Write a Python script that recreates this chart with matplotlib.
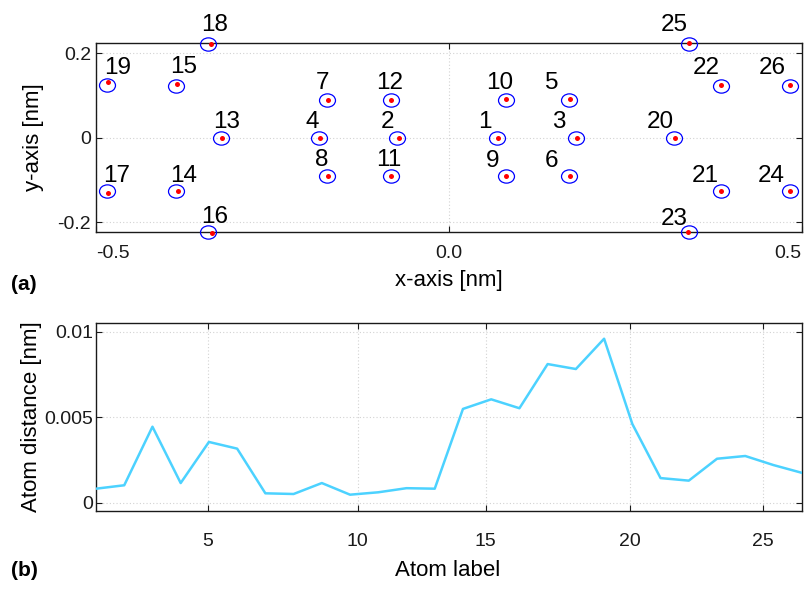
import matplotlib
matplotlib.use("Agg")
from matplotlib import pyplot as plt
from matplotlib.path import Path
from matplotlib.transforms import Affine2D

plt.rcParams['font.family'] = ['Liberation Sans', 'DejaVu Sans']

# atom labels
atoms = list(range(1, 27))

# ideal lattice positions [nm]
x_ideal = [0.068, -0.073, 0.180, -0.184, 0.170, 0.170, -0.172, -0.172, 0.081, 0.081,
           -0.082, -0.082, -0.323, -0.386, -0.387, -0.341, -0.485, -0.341, -0.484, 0.319,
           0.386, 0.386, 0.340, 0.484, 0.340, 0.484]
y_ideal = [0.0, 0.0, 0.0, 0.0, 0.090, -0.090, 0.090, -0.090, -0.090, 0.090,
           -0.090, 0.090, 0.0, -0.126, 0.122, -0.223, -0.126, 0.222, 0.125, 0.0,
           -0.126, 0.1235, -0.223, -0.126, 0.2226, 0.1235]

# relaxed positions [nm]
x_relax = [0.069, -0.071, 0.182, -0.183, 0.172, 0.172, -0.171, -0.171, 0.081, 0.081,
           -0.082, -0.082, -0.322, -0.384, -0.385, -0.336, -0.483, -0.337, -0.483, 0.321,
           0.385, 0.385, 0.339, 0.483, 0.340, 0.484]
y_relax = [0.0, 0.0, 0.0, 0.0, 0.091, -0.091, 0.090, -0.090, -0.091, 0.091,
           -0.090, 0.090, 0.0, -0.127, 0.127, -0.225, -0.130, 0.223, 0.131, 0.0,
           -0.126, 0.124, -0.224, -0.126, 0.224, 0.125]

# displacement of each atom [nm]
distance = [0.00083, 0.00103, 0.00445, 0.00116, 0.00356, 0.00317, 0.00056, 0.00052,
            0.00116, 0.00048, 0.00062, 0.00086, 0.00083, 0.00549, 0.00605, 0.00553,
            0.00811, 0.00782, 0.00959, 0.00461, 0.00145, 0.00130, 0.00258, 0.00274,
            0.00221, 0.00176]

# where the number sits relative to its atom (pixels)
label_offsets = [(-12, 16), (-10, 16), (-17, 16), (-7, 16), (-17, 17), (-17, 14.5),
                 (-5, 17), (-6, 15.5), (-13, 14.5), (-6, 17), (-2, 15.5), (-1, 17),
                 (6, 16), (7.5, 14.5), (7.5, 19), (6, 14.5), (10.5, 14.5), (6, 19),
                 (10, 17), (-14, 16), (-16, 15), (-15.5, 18), (-15, 13), (-19, 15),
                 (-15, 19), (-18.5, 18)]

b_ticks = [4.96, 10.27, 14.80, 19.92, 24.64]
b_ticklabels = ['5', '10', '15', '20', '25']

W, H = 806, 589
fig = plt.figure(figsize=(W / 100, H / 100), dpi=100)

def px_axes(left, top, right, bottom):
    return fig.add_axes([left / W, 1 - bottom / H, (right - left) / W, (bottom - top) / H])

def style(ax):
    for s in ax.spines.values():
        s.set_linewidth(1.0)
        s.set_color('#1a1a1a')
    ax.tick_params(direction='in', top=True, right=True, length=4.5, width=0.8,
                   labelsize=14, colors='#1a1a1a')
    ax.grid(True, color='#d2d2d2', linestyle=(0, (1, 2)), linewidth=0.8)
    ax.set_axisbelow(True)

# (a) atom positions
ax1 = px_axes(96, 43.3, 801.7, 232.3)
style(ax1)
ellipse = Path.unit_circle().transformed(Affine2D().scale(1, 0.83))
ax1.plot(x_ideal, y_ideal, linestyle='none', marker=ellipse, markersize=11.5,
         markerfacecolor='none', markeredgecolor='#0000ff', markeredgewidth=0.9,
         clip_on=False, zorder=4)
ax1.plot(x_relax, y_relax, linestyle='none', marker='o', markersize=3.6,
         markerfacecolor='#ff0000', markeredgecolor='#ff0000', markeredgewidth=0,
         clip_on=False, zorder=5)
for i, n in enumerate(atoms):
    ax1.annotate(str(n), (x_ideal[i], y_ideal[i]), xytext=label_offsets[i],
                 textcoords='offset pixels', ha='center', va='center', fontsize=17.5,
                 color='black', annotation_clip=False, zorder=6)
ax1.set_xlim(-0.5, 0.5)
ax1.set_ylim(-0.2242, 0.2237)
ax1.set_xticks([-0.5, 0.0, 0.5])
ax1.set_xticklabels(['-0.5', '0.0', '0.5'])
ax1.set_yticks([-0.2, 0.0, 0.2])
ax1.set_yticklabels(['-0.2', '0', '0.2'])
ax1.tick_params(axis='x', pad=9.5)
ax1.tick_params(axis='y', pad=3.5)
xl = ax1.get_xticklabels()
xl[0].set_ha('left')
xl[-1].set_ha('right')

# (b) displacement per atom
ax2 = px_axes(96, 322.7, 801.7, 511)
style(ax2)
ax2.plot(atoms, distance, color='#4cd2ff', linewidth=1.8, zorder=3)
ax2.set_xlim(1, 26)
ax2.set_ylim(-0.000473, 0.010526)
ax2.set_xticks(b_ticks)
ax2.set_xticklabels(b_ticklabels)
ax2.set_yticks([0, 0.005, 0.01])
ax2.set_yticklabels(['0', '0.005', '0.01'])
ax2.tick_params(axis='x', pad=16)
ax2.tick_params(axis='y', pad=2)

fig.text(33 / W, 1 - 137 / H, 'y-axis [nm]', rotation=90, ha='center', va='center', fontsize=16)
fig.text(448.5 / W, 1 - 281 / H, 'x-axis [nm]', ha='center', va='center', fontsize=16)
fig.text(32 / W, 1 - 417 / H, 'Atom distance [nm]', rotation=90, ha='center', va='center', fontsize=16)
fig.text(447.5 / W, 1 - 570 / H, 'Atom label', ha='center', va='center', fontsize=16)
fig.text(11 / W, 1 - 284 / H, '(a)', ha='left', va='center', fontsize=15, fontweight='bold')
fig.text(11 / W, 1 - 571 / H, '(b)', ha='left', va='center', fontsize=15, fontweight='bold')

fig.savefig('out.png', dpi=100)
